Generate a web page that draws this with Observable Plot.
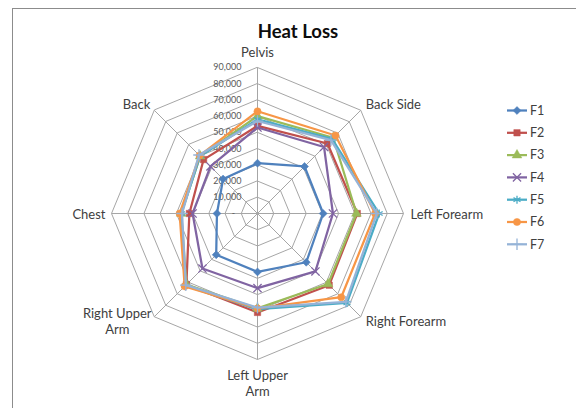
<!DOCTYPE html>
<html><head><meta charset="utf-8">
<script src="https://cdn.jsdelivr.net/npm/d3@7"></script>
<script src="https://cdn.jsdelivr.net/npm/@observablehq/plot@0.6"></script>
<style>
html,body{margin:0;padding:0;background:#fff;}
#wrap{position:relative;width:576px;height:408px;overflow:hidden;font-family:Lato,"Open Sans",sans-serif;}
#frame{position:absolute;left:12px;top:8px;width:640px;height:520px;border:1px solid #8c8c8c;box-sizing:border-box;}
#title{position:absolute;left:0;width:596px;top:21px;line-height:20px;text-align:center;font-weight:bold;font-size:18.5px;color:#0d0d0d;}
#chart{position:absolute;left:0;top:0;}
#legend{position:absolute;left:0;top:0;}
</style>
</head><body>
<div id="wrap"><div id="frame"></div><div id="chart"></div><svg id="legend" width="576" height="408"></svg><div id="title">Heat Loss</div></div>
<script>
// ---- data ----
const categories = ["Pelvis","Back Side","Left Forearm","Right Forearm","Left Upper\nArm","Right Upper\nArm","Chest","Back"];
const seriesNames = ["F1","F2","F3","F4","F5","F6","F7"];
const F1 = [31000, 41000, 40500, 42500, 36000, 36000, 25000, 30000];
const F2 = [54000, 61000, 61500, 62500, 61000, 62000, 42000, 47000];
const F3 = [60000, 66000, 61000, 61500, 58500, 62000, 47000, 50000];
const F4 = [53000, 58000, 46500, 50500, 46000, 48000, 40000, 41000];
const F5 = [58000, 65000, 75000, 78000, 59000, 63000, 47000, 50000];
const F6 = [63000, 68000, 72500, 73000, 58500, 63500, 48000, 50500];
const F7 = [57000, 64000, 73500, 77000, 58000, 62500, 46500, 51000];
const seriesValues = [F1, F2, F3, F4, F5, F6, F7];
const tickValues = [0, 10000, 20000, 30000, 40000, 50000, 60000, 70000, 80000, 90000];
const tickLabels = ["-", "10,000", "20,000", "30,000", "40,000", "50,000", "60,000", "70,000", "80,000", "90,000"];

// ---- styles ----
const colors = ["#4F81BD","#C0504D","#9BBB59","#8064A2","#4BACC6","#F79646","#95B3D7"];
const symbols = ["diamond2","square","triangle","times","asterisk","circle","plus"];
const filled = [true, true, true, false, false, true, false];
const W = 576, H = 408, cx = 257, cy = 213, R = 146;
const maxV = 90000;
const k = R / maxV;
const n = categories.length;
const ang = i => i * 2 * Math.PI / n;
const px = (v, i) => v * Math.sin(ang(i));
const py = (v, i) => v * Math.cos(ang(i));

const ringPts = [];
tickValues.filter(t => t > 0).forEach(t => categories.forEach((c, i) => ringPts.push({t, x: px(t, i), y: py(t, i)})));
const spokes = categories.map((c, i) => ({i, x2: px(maxV, i), y2: py(maxV, i)}));
const pts = [];
seriesNames.forEach((s, si) => seriesValues[si].forEach((v, i) => pts.push({s, si, i, v, x: px(v, i), y: py(v, i)})));
const labels = categories.map((c, i) => ({c, i, x: px(maxV, i), y: py(maxV, i)}));
const lab = idx => labels.filter(d => idx.includes(d.i));

const marks = [
  Plot.line(ringPts, {x: "x", y: "y", z: "t", curve: "linear-closed", stroke: "#a6a6a6", strokeWidth: 1}),
  Plot.link(spokes, {x1: () => 0, y1: () => 0, x2: "x2", y2: "y2", stroke: "#a6a6a6", strokeWidth: 1}),
  Plot.text(tickValues.slice(1), {x: () => 0, y: d => d, text: (d, i) => tickLabels[i + 1], textAnchor: "end", dx: -16, fontSize: 9, fill: "#595959", fontFamily: "Lato"}),
  Plot.text([tickValues[0]], {x: () => 0, y: d => d, text: () => tickLabels[0], textAnchor: "middle", dx: -24, fontSize: 9, fill: "#595959", fontFamily: "Lato"})
];
seriesNames.forEach((s, si) => {
  const d = pts.filter(p => p.si === si);
  marks.push(Plot.line(d, {x: "x", y: "y", curve: "linear-closed", stroke: colors[si], strokeWidth: 2.25}));
  marks.push(Plot.dot(d, filled[si]
    ? {x: "x", y: "y", symbol: () => symbols[si], r: 3.6, fill: colors[si], stroke: colors[si], strokeWidth: 0.5}
    : {x: "x", y: "y", symbol: () => symbols[si], r: 3.8, stroke: colors[si], strokeWidth: 1.3, fill: "none"}));
});
const tstyle = {text: "c", fontSize: 13, fill: "#404040", fontFamily: "Lato", lineHeight: 1.25};
marks.push(
  Plot.text(lab([0]), {...tstyle, x: "x", y: "y", textAnchor: "middle", dy: -16}),
  Plot.text(lab([1]), {...tstyle, x: "x", y: "y", textAnchor: "start", dx: 5, dy: -6}),
  Plot.text(lab([2]), {...tstyle, x: "x", y: "y", textAnchor: "start", dx: 7, dy: 0}),
  Plot.text(lab([3]), {...tstyle, x: "x", y: "y", textAnchor: "start", dx: 5, dy: 4}),
  Plot.text(lab([4]), {...tstyle, x: "x", y: "y", textAnchor: "middle", dy: 23}),
  Plot.text(lab([5]), {...tstyle, x: "x", y: "y", textAnchor: "middle", dx: -37, dy: 4}),
  Plot.text(lab([6]), {...tstyle, x: "x", y: "y", textAnchor: "end", dx: -6, dy: 0}),
  Plot.text(lab([7]), {...tstyle, x: "x", y: "y", textAnchor: "end", dx: -4, dy: -6})
);

const chart = Plot.plot({
  width: W, height: H, margin: 0,
  style: {background: "transparent", overflow: "visible"},
  x: {domain: [-cx / k, (W - cx) / k], range: [0, W], axis: null},
  y: {domain: [-(H - cy) / k, cy / k], range: [H, 0], axis: null},
  marks
});
document.getElementById("chart").appendChild(chart);

// ---- legend ----
const d3sym = {diamond2: d3.symbolDiamond2, square: d3.symbolSquare, triangle: d3.symbolTriangle, times: d3.symbolTimes, asterisk: d3.symbolAsterisk, circle: d3.symbolCircle, plus: d3.symbolPlus};
const lg = d3.select("#legend");
seriesNames.forEach((s, si) => {
  const y = 110.5 + si * 22.3;
  const g = lg.append("g");
  g.append("line").attr("x1", 507).attr("x2", 527).attr("y1", y).attr("y2", y).attr("stroke", colors[si]).attr("stroke-width", 2.25);
  const r = filled[si] ? 3.6 : 3.8;
  g.append("path").attr("transform", `translate(517,${y})`).attr("d", d3.symbol(d3sym[symbols[si]], r * r * Math.PI)())
    .attr("fill", filled[si] ? colors[si] : "none").attr("stroke", colors[si]).attr("stroke-width", filled[si] ? 0.5 : 1.3);
  g.append("text").attr("x", 530).attr("y", y).attr("dy", "0.35em").attr("font-size", 12.5).attr("font-family", "Lato").attr("fill", "#404040").text(s);
});
</script>
</body></html>
